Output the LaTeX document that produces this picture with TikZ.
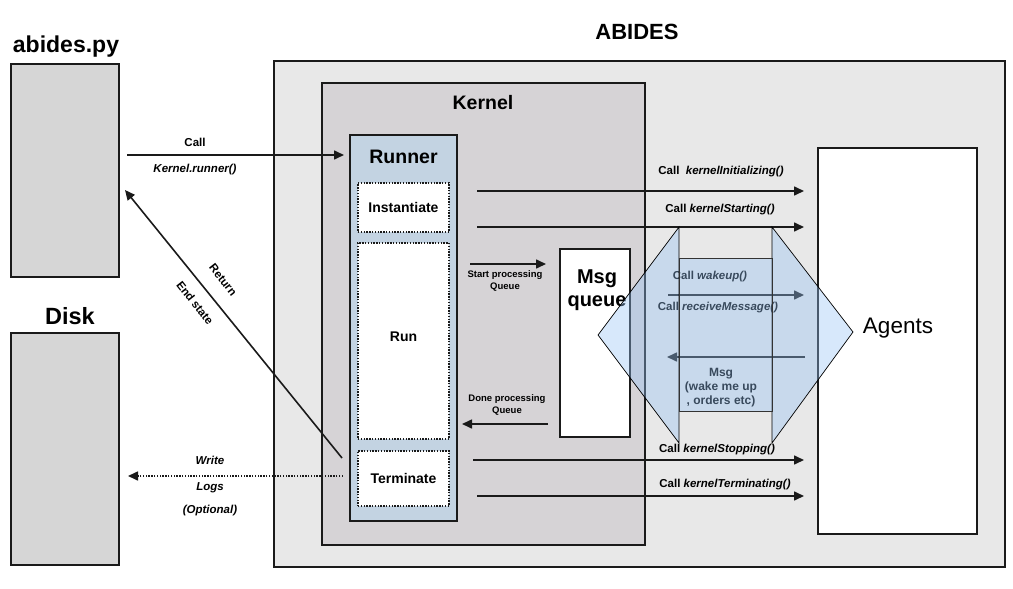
\documentclass[tikz,border=0pt]{standalone}
\usepackage{fontspec}
\setmainfont{Liberation Sans}
\usetikzlibrary{arrows.meta}
\definecolor{boxgrey}{HTML}{D6D6D6}
\definecolor{abidesbg}{HTML}{E8E8E8}
\definecolor{kernelbg}{HTML}{D6D3D6}
\definecolor{runnerbg}{HTML}{C3D3E2}
\definecolor{triblue}{RGB}{150,195,245}
\definecolor{edge}{HTML}{1A1A1A}
\newcommand{\fs}[1]{\fontsize{#1}{#1}\selectfont}
\tikzset{
  box/.style={draw=edge, line width=1.8pt, rectangle, inner sep=0pt},
  dotbox/.style={draw=edge, line width=1.4pt, dash pattern=on 1.4pt off 1.4pt, fill=white, rectangle, inner sep=0pt},
  title/.style={font=\fs{23}\bfseries, inner sep=0pt},
  lbl/.style={font=\fs{11.5}\bfseries, inner sep=0pt},
  small/.style={font=\fs{9.5}\bfseries, inner sep=0pt, align=center},
  arr/.style={line width=1.6pt, draw=edge, -{Triangle[length=10pt,width=9pt]}},
  dotarr/.style={line width=1.6pt, draw=edge, dash pattern=on 1.4pt off 1.4pt, -{Triangle[length=10pt,width=9pt]}},
  overlay/.style={fill=triblue, fill opacity=0.38, draw=black, line width=0.7pt},
}
\begin{document}
\begin{tikzpicture}[x=1pt,y=-1pt]
\useasboundingbox (0,0) rectangle (1013,589);
% left boxes
\node[box, fill=boxgrey, minimum width=108pt, minimum height=213pt] (abidespy) at (65,170.5) {};
\node[box, fill=boxgrey, minimum width=108pt, minimum height=232pt] (disk) at (65,449) {};
\node[title] (abidespyt) at (66,47) {abides.py};
\node[title, font=\fs{23.5}\bfseries] (diskt) at (70,316) {Disk};
% ABIDES
\node[box, fill=abidesbg, minimum width=731pt, minimum height=506pt] (abides) at (639.5,314) {};
\node[title, font=\fs{22}\bfseries] (abidest) at (637,32) {ABIDES};
% Kernel
\node[box, fill=kernelbg, minimum width=323pt, minimum height=462pt] (kernel) at (483.5,314) {};
\node[title, font=\fs{19.5}\bfseries] (kernelt) at (483,103) {Kernel};
% Runner
\node[box, fill=runnerbg, minimum width=107pt, minimum height=386pt] (runner) at (403.5,328) {};
\node[title, font=\fs{19.5}\bfseries] (runnert) at (403.5,157) {Runner};
\node[dotbox, minimum width=91pt, minimum height=49pt, font=\fs{14}\bfseries] (inst) at (403.5,207.5) {Instantiate};
\node[dotbox, minimum width=91pt, minimum height=196pt] (run) at (403.5,341) {};
\node[font=\fs{14}\bfseries, inner sep=0pt] (runt) at (403.5,337) {Run};
\node[dotbox, minimum width=91pt, minimum height=55pt, font=\fs{14}\bfseries] (term) at (403.5,478.5) {Terminate};
% Msg queue
\node[box, fill=white, minimum width=70pt, minimum height=188pt] (msgq) at (595,343) {};
\node[font=\fs{20}\bfseries, inner sep=0pt, align=center] (msgqt) at (597,290) {Msg\\[3pt]queue};
% Agents
\node[box, fill=white, minimum width=159pt, minimum height=386pt] (agents) at (897.5,341) {};
\node[font=\fs{22.5}, inner sep=0pt] (agentst) at (898,328) {Agents};

% coordinates for connector ends
\coordinate (callS) at (127,155);
\coordinate (callE) at (344,155);
\coordinate (retS) at (342,458);
\coordinate (retE) at (125,190);
\coordinate (writeS) at (343,476);
\coordinate (writeE) at (128,476);
\coordinate (iniS) at (477,191);
\coordinate (iniE) at (804,191);
\coordinate (staS) at (477,227);
\coordinate (staE) at (804,227);
\coordinate (spS) at (470,264);
\coordinate (spE) at (546,264);
\coordinate (wkS) at (668,295);
\coordinate (wkE) at (804,295);
\coordinate (msgS) at (805,357);
\coordinate (msgE) at (667,357);
\coordinate (dpS) at (548,424);
\coordinate (dpE) at (462,424);
\coordinate (stoS) at (473,460);
\coordinate (stoE) at (804,460);
\coordinate (terS) at (477,496);
\coordinate (terE) at (804,496);

% connectors
\draw[arr] (callS) -- (callE);
\node[lbl] (callL1) at (195,142) {Call};
\node[lbl] (callL2) at (195,170) {\itshape Kernel.runner()};

\draw[arr] (retS) -- (retE);
\node[lbl, rotate=-52] (retL1) at (223,280) {Return};
\node[lbl, rotate=-52] (retL2) at (195,303) {End state};

\draw[dotarr] (writeS) -- (writeE);
\node[lbl] (wrL1) at (210,460) {\itshape Write};
\node[lbl] (wrL2) at (210,488) {\itshape Logs};
\node[lbl] (wrL3) at (210,511) {\itshape (Optional)};

\draw[arr] (iniS) -- (iniE);
\node[lbl] (iniL) at (721,172) {Call\ \ \itshape kernelInitializing()};
\draw[arr] (staS) -- (staE);
\node[lbl] (staL) at (720,210) {Call \itshape kernelStarting()};

\draw[arr] (spS) -- (spE);
\node[small] (spL) at (505,281) {Start processing\\[2pt]Queue};

\draw[arr] (wkS) -- (wkE);
\node[lbl] (wkL1) at (710,277) {Call \itshape wakeup()};
\node[lbl] (wkL2) at (718,308) {Call \itshape receiveMessage()};

\draw[arr] (msgS) -- (msgE);
\node[lbl, align=center, font=\fs{12}\bfseries] (msgL) at (721,388) {Msg\\[2pt](wake me up\\[2pt], orders etc)};

\draw[arr] (dpS) -- (dpE);
\node[small] (dpL) at (507,405) {Done processing\\[2pt]Queue};

\draw[arr] (stoS) -- (stoE);
\node[lbl] (stoL) at (717,450) {Call \itshape kernelStopping()};
\draw[arr] (terS) -- (terE);
\node[lbl] (terL) at (725,485) {Call \itshape kernelTerminating()};

% translucent overlays
\draw[overlay] (679,227) -- (598,335) -- (679,443) -- cycle;
\draw[overlay] (772,227) -- (853,332) -- (772,443) -- cycle;
\draw[overlay, draw=black!80] (679,258) rectangle (772,411);
\end{tikzpicture}
\end{document}
